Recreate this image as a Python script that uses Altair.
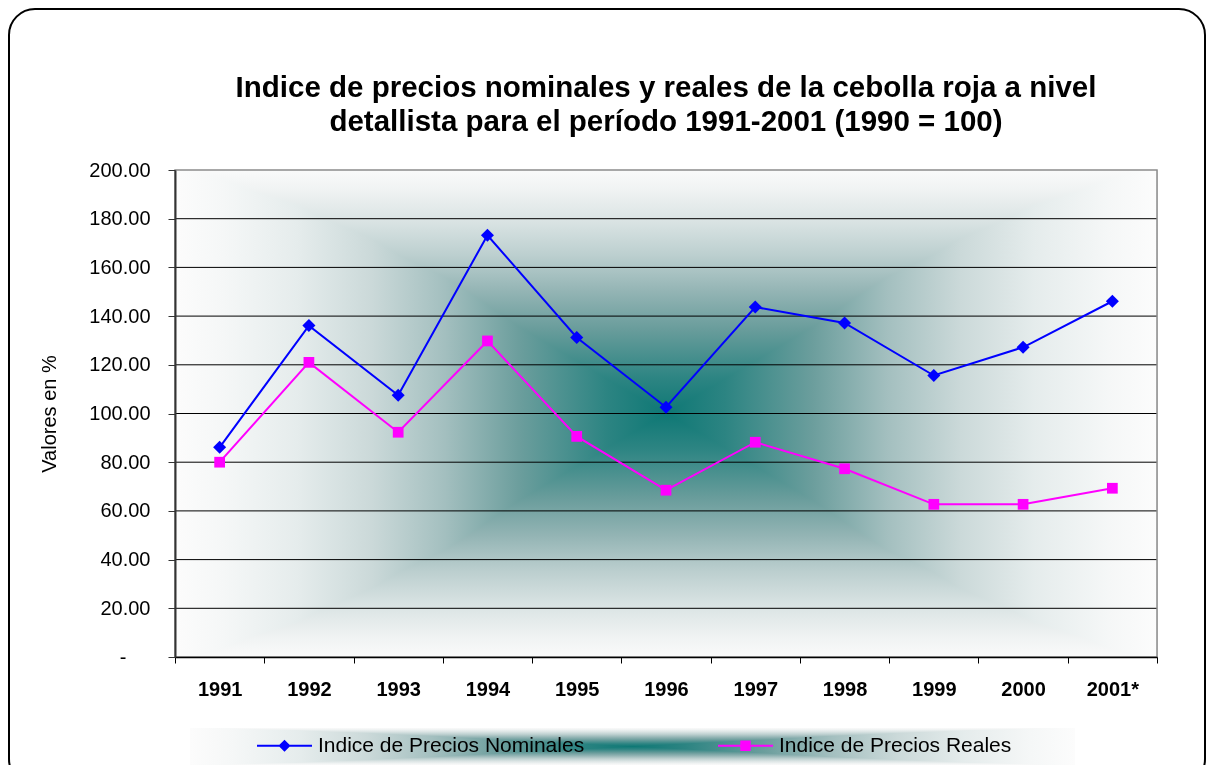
import altair as alt
import pandas as pd

# ---------------- data ----------------
years = ["1991", "1992", "1993", "1994", "1995", "1996", "1997", "1998", "1999", "2000", "2001*"]
nominal = [86.1, 136.1, 107.5, 173.2, 131.2, 102.6, 143.7, 137.2, 115.6, 127.2, 146.1]
real = [80.0, 121.0, 92.3, 129.8, 90.6, 68.5, 88.2, 77.3, 62.7, 62.7, 69.3]
series = ["Indice de Precios Nominales", "Indice de Precios Reales"]
y_ticks = [0, 20, 40, 60, 80, 100, 120, 140, 160, 180, 200]
grid_vals = [20, 40, 60, 80, 100, 120, 140, 160, 180]
title_lines = ["Indice de precios nominales y reales de la cebolla roja a nivel",
               "detallista para el período 1991-2001 (1990 = 100)"]
y_title = "Valores en %"

# ---------------- style ----------------
colors = ["#0000ff", "#ff00ff"]
FONT = "Liberation Sans"
W, H = 982, 487

# gradient profile: distance from centre (0) to edge (1)
t_h = [0.0, 0.12, 0.3, 0.45, 0.6, 0.75, 0.9, 1.0]
c_h = ["#0e7875", "#2c8482", "#6c9e9d", "#a3bfbf", "#cbd9d9", "#e5ecec", "#f5f7f7", "#fcfcfc"]
t_v = [0.0, 0.15, 0.35, 0.5, 0.65, 0.8, 0.92, 1.0]
c_v = ["#0e7875", "#2e8583", "#6a9d9c", "#93b4b4", "#bccfcf", "#dce5e5", "#f0f3f3", "#fafafa"]


def centre_gradient(ts, cs, vertical):
    stops = []
    for t, c in sorted(zip(ts, cs), key=lambda p: -p[0]):
        stops.append(alt.GradientStop(offset=0.5 * (1 - t), color=c))
    for t, c in zip(ts, cs):
        if t > 0:
            stops.append(alt.GradientStop(offset=0.5 + 0.5 * t, color=c))
    if vertical:
        return alt.Gradient(gradient="linear", stops=stops, x1=0, x2=0, y1=0, y2=1)
    return alt.Gradient(gradient="linear", stops=stops, x1=0, x2=1, y1=0, y2=0)


rows = []
for i, yr in enumerate(years):
    rows.append({"year": yr, "serie": series[0], "value": nominal[i]})
    rows.append({"year": yr, "serie": series[1], "value": real[i]})
df = pd.DataFrame(rows)
one = pd.DataFrame({"k": [0]})

yscale = alt.Scale(domain=[0, 200], nice=False, zero=True)
xscale = alt.Scale(type="band", domain=years, paddingInner=0, paddingOuter=0)
cscale = alt.Scale(domain=series, range=colors)

# legend symbols: line + marker drawn as filled custom paths
sym_paths = ["M-1,-0.037L1,-0.037L1,0.037L-1,0.037ZM0,-0.22L0.22,0L0,0.22L-0.22,0Z",
             "M-1,-0.037L1,-0.037L1,0.037L-1,0.037ZM-0.19,-0.19L0.19,-0.19L0.19,0.19L-0.19,0.19Z"]

legend = alt.Legend(
    orient="none", legendX=82, legendY=548, direction="horizontal", title=None,
    labelFont=FONT, labelFontSize=21, labelColor="black", labelOffset=6, labelLimit=0,
    symbolSize=3025, symbolStrokeWidth=0, symbolOpacity=1, columnPadding=133, padding=0,
)

x_axis = alt.Axis(title=None, labelAngle=0, labelFont=FONT, labelFontSize=20,
                  labelFontWeight="bold", labelColor="black", tickBand="extent",
                  tickSize=6, tickColor="black", domainColor="black", domainWidth=1.5,
                  labelPadding=16, grid=False, zindex=1)
y_axis = alt.Axis(values=y_ticks,
                  labelExpr="datum.value == 0 ? '-' : format(datum.value, '.2f')",
                  labelFont=FONT, labelFontSize=20, labelColor="black",
                  labelPadding={"condition": {"test": "datum.value == 0", "value": 42}, "value": 18},
                  tickSize=7, tickColor="#333333", domainColor="#333333", domainWidth=2,
                  grid=False, title=y_title, titleFont=FONT, titleFontSize=20,
                  titleFontWeight="normal", titleColor="black", titlePadding=29, zindex=1)

# plot-area background (rectangular "from centre" gradient)
bg_h = alt.Chart(one).mark_rect(fill=centre_gradient(t_h, c_h, False)).encode(
    x=alt.value(0), x2=alt.value(W), y=alt.value(0), y2=alt.value(H))
bg_v = alt.Chart(one).mark_rect(fill=centre_gradient(t_v, c_v, True), blend="lighten").encode(
    x=alt.value(0), x2=alt.value(W), y=alt.value(0), y2=alt.value(H))

# legend background
LX0, LX1, LY0, LY1 = 15, 900, 558, 595
lg_h = alt.Chart(one).mark_rect(fill=centre_gradient(t_h, c_h, False)).encode(
    x=alt.value(LX0), x2=alt.value(LX1), y=alt.value(LY0), y2=alt.value(LY1))
lg_v = alt.Chart(one).mark_rect(fill=centre_gradient(t_v, c_v, True), blend="lighten").encode(
    x=alt.value(LX0), x2=alt.value(LX1), y=alt.value(LY0), y2=alt.value(LY1))

grid = alt.Chart(pd.DataFrame({"value": grid_vals})).mark_rule(color="black", strokeWidth=1).encode(
    y=alt.Y("value:Q", scale=yscale, axis=y_axis))

frame = alt.Chart(one).mark_rect(fillOpacity=0, stroke="#8c8c8c", strokeWidth=1.5).encode(
    x=alt.value(0), x2=alt.value(W), y=alt.value(0), y2=alt.value(H))

layers = []
for s, col, shp, sz in zip(series, colors, ["diamond", "square"], [170, 115]):
    base = alt.Chart(df).transform_filter(alt.datum.serie == s)
    layers.append(base.mark_line(strokeWidth=2, color=col).encode(
        x=alt.X("year:N", scale=xscale, axis=x_axis, sort=years, bandPosition=0.5),
        y=alt.Y("value:Q", scale=yscale, axis=y_axis),
    ))
    layers.append(base.mark_point(filled=True, opacity=1, color=col, shape=shp, size=sz,
                                  strokeWidth=0).encode(
        x=alt.X("year:N", scale=xscale, axis=x_axis, sort=years, bandPosition=0.5),
        y=alt.Y("value:Q", scale=yscale, axis=y_axis),
    ))

# legend-only layer (no data rows drawn)
legend_layer = alt.Chart(df).transform_filter("false").mark_point(filled=True, opacity=1).encode(
    color=alt.Color("serie:N", scale=cscale, legend=legend),
    shape=alt.Shape("serie:N", scale=alt.Scale(domain=series, range=sym_paths), legend=legend),
)

outer = alt.Chart(one).mark_rect(fillOpacity=0, stroke="black", strokeWidth=2, cornerRadius=26).encode(
    x=alt.value(-166), x2=alt.value(1030), y=alt.value(-161), y2=alt.value(615))

chart = alt.layer(bg_h, bg_v, lg_h, lg_v, grid, frame, *layers, legend_layer, outer).properties(
    width=W, height=H,
    autosize=alt.AutoSizeParams(type="none"),
    padding={"left": 167, "top": 162, "right": 50, "bottom": 108},
    title=alt.Title(title_lines, font=FONT, fontSize=29.5, fontWeight="bold", color="black",
                    anchor="middle", frame="group", offset=-129, lineHeight=34),
).configure_view(stroke=None).configure(background="white")

chart.save("out.html", embed_options={"renderer": "svg", "actions": False})
